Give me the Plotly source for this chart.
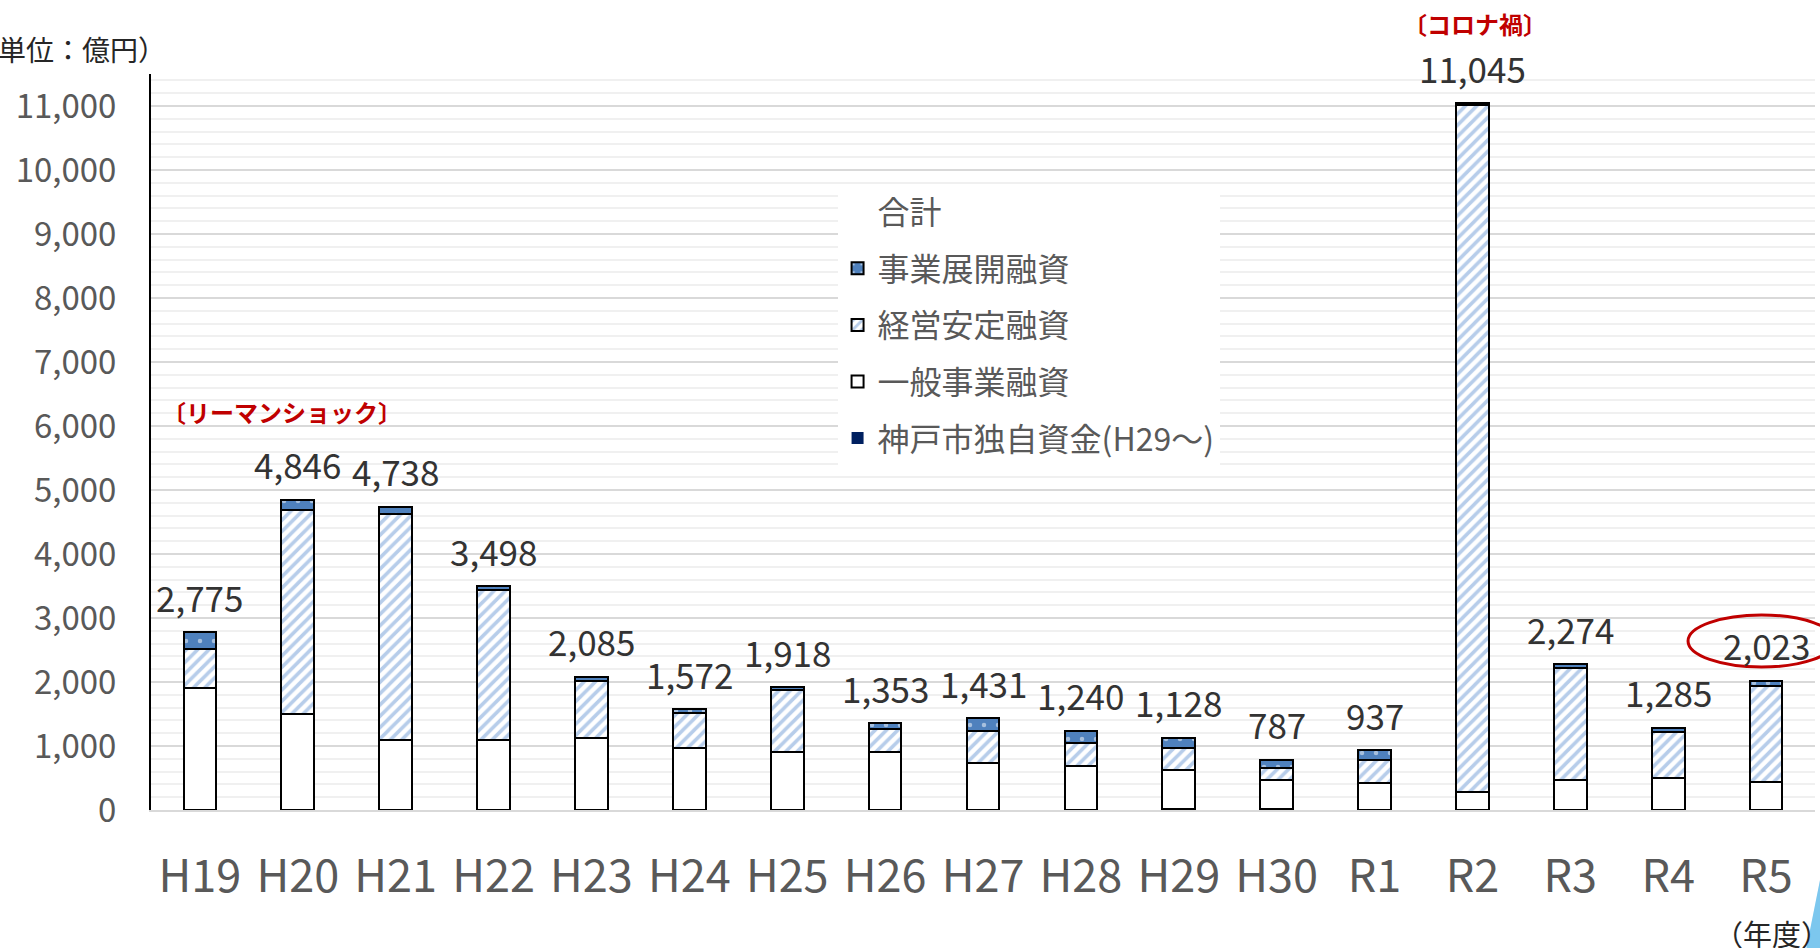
import plotly.graph_objects as go

# ---------------- data ----------------
years = ["H19", "H20", "H21", "H22", "H23", "H24", "H25", "H26", "H27",
         "H28", "H29", "H30", "R1", "R2", "R3", "R4", "R5"]
totals = [2775, 4846, 4738, 3498, 2085, 1572, 1918, 1353, 1431,
          1240, 1128, 787, 937, 11045, 2274, 1285, 2023]
kobe_own = [0, 0, 0, 0, 0, 0, 0, 0, 0, 0, 20, 10, 0, 0, 0, 0, 0]
general = [1900, 1495, 1090, 1090, 1120, 964, 901, 901, 740,
           688, 605, 460, 427, 281, 469, 495, 437]
stable = [620, 3187, 3530, 2347, 896, 557, 974, 370, 500,
          364, 339, 181, 354, 10734, 1745, 719, 1500]
expand = [255, 164, 118, 61, 69, 51, 43, 82, 191,
          188, 164, 136, 156, 30, 60, 71, 86]

name_total = "合計"
name_expand = "事業展開融資"
name_stable = "経営安定融資"
name_general = "一般事業融資"
name_kobe = "神戸市独自資金(H29～)"

FONT = "Noto Sans CJK JP, Noto Sans, sans-serif"
TICK_GRAY = "#595959"
RED = "#C00000"

fig = go.Figure()

# legend-only entry for the total
fig.add_trace(go.Scatter(
    x=[None], y=[None], mode="lines", name=name_total,
    line=dict(color="rgba(0,0,0,0)", width=0),
    legendrank=1, legendgroup="g1", hoverinfo="skip"))

fig.add_trace(go.Bar(
    x=years, y=kobe_own, name=name_kobe,
    marker=dict(color="#002060", line=dict(width=0)),
    legendrank=5, legendgroup="g5"))

fig.add_trace(go.Bar(
    x=years, y=general, name=name_general,
    marker=dict(color="white", line=dict(color="black", width=2)),
    legendrank=4, legendgroup="g4"))

fig.add_trace(go.Bar(
    x=years, y=stable, name=name_stable,
    marker=dict(color="white", line=dict(color="black", width=2),
                pattern=dict(shape="/", fgcolor="#6F9BD6", bgcolor="white",
                             size=8, solidity=0.45)),
    legendrank=3, legendgroup="g3"))

fig.add_trace(go.Bar(
    x=years, y=expand, name=name_expand,
    marker=dict(color="#4F81BD", line=dict(color="black", width=2),
                pattern=dict(shape=".", fgcolor="white", bgcolor="#4F81BD",
                             size=14, solidity=0.08)),
    legendrank=2, legendgroup="g2"))

# total labels
for yr, tot in zip(years, totals):
    fig.add_annotation(x=yr, y=tot, text=f"{tot:,}", showarrow=False,
                       yshift=36, yanchor="middle", xanchor="center",
                       font=dict(family=FONT, size=35, color="#333333"))

# text annotations
fig.add_annotation(xref="paper", yref="paper", x=0.0787, y=0.5408,
                   xanchor="center", yanchor="middle",
                   text="<b>〔リーマンショック〕</b>", showarrow=False,
                   font=dict(family=FONT, size=24, color=RED))
fig.add_annotation(xref="paper", yref="paper", x=0.7957, y=1.069,
                   xanchor="center", yanchor="middle",
                   text="<b>〔コロナ禍〕</b>", showarrow=False,
                   font=dict(family=FONT, size=24, color=RED))
fig.add_annotation(xref="paper", yref="paper", x=0.0102, y=1.034,
                   xanchor="right", yanchor="middle",
                   text="（単位：億円）", showarrow=False,
                   font=dict(family=FONT, size=28, color="#262626"))
fig.add_annotation(xref="paper", yref="paper", x=0.9744, y=-0.167,
                   xanchor="center", yanchor="middle",
                   text="（年度）", showarrow=False,
                   font=dict(family=FONT, size=29, color="#262626"))

# red ellipse around latest value
fig.add_shape(type="circle", xref="paper", yref="paper",
              x0=0.9237, x1=1.012, y0=0.1943, y1=0.265,
              line=dict(color=RED, width=3))
# light-blue fragment at bottom-right edge
fig.add_shape(type="path", xref="paper", yref="paper",
              path="M 1.003 -0.095 L 1.003 -0.19 L 0.9946 -0.19 Z",
              fillcolor="#7CC7EE", line=dict(width=0))

fig.update_layout(
    width=1820, height=948,
    margin=dict(l=151, r=5, t=74, b=138),
    paper_bgcolor="white", plot_bgcolor="white",
    barmode="stack", bargap=0.666,
    font=dict(family=FONT, color=TICK_GRAY),
    showlegend=True,
    legend=dict(x=0.4126, y=0.85, xanchor="left", yanchor="top",
                bgcolor="white", borderwidth=0,
                traceorder="grouped", tracegroupgap=12,
                font=dict(family=FONT, size=32, color=TICK_GRAY)),
)

fig.update_xaxes(
    type="category", showline=True, linecolor="#D9D9D9", linewidth=2,
    ticks="", tickfont=dict(family=FONT, size=45, color=TICK_GRAY),
    ticklabelstandoff=26, showgrid=False)

fig.update_yaxes(
    range=[0, 11500], dtick=1000, tick0=0, tickformat=",d",
    showline=True, linecolor="black", linewidth=2,
    showgrid=True, gridcolor="#D9D9D9", gridwidth=2,
    minor=dict(dtick=200, showgrid=True, gridcolor="#F0F0F0", gridwidth=2),
    zeroline=False, ticks="",
    ticklabelstandoff=26,
    tickfont=dict(family=FONT, size=33, color=TICK_GRAY))

fig.write_html("out.html", config={"displayModeBar": False},
               post_script="document.body.style.margin='0';document.body.style.overflow='hidden';")
